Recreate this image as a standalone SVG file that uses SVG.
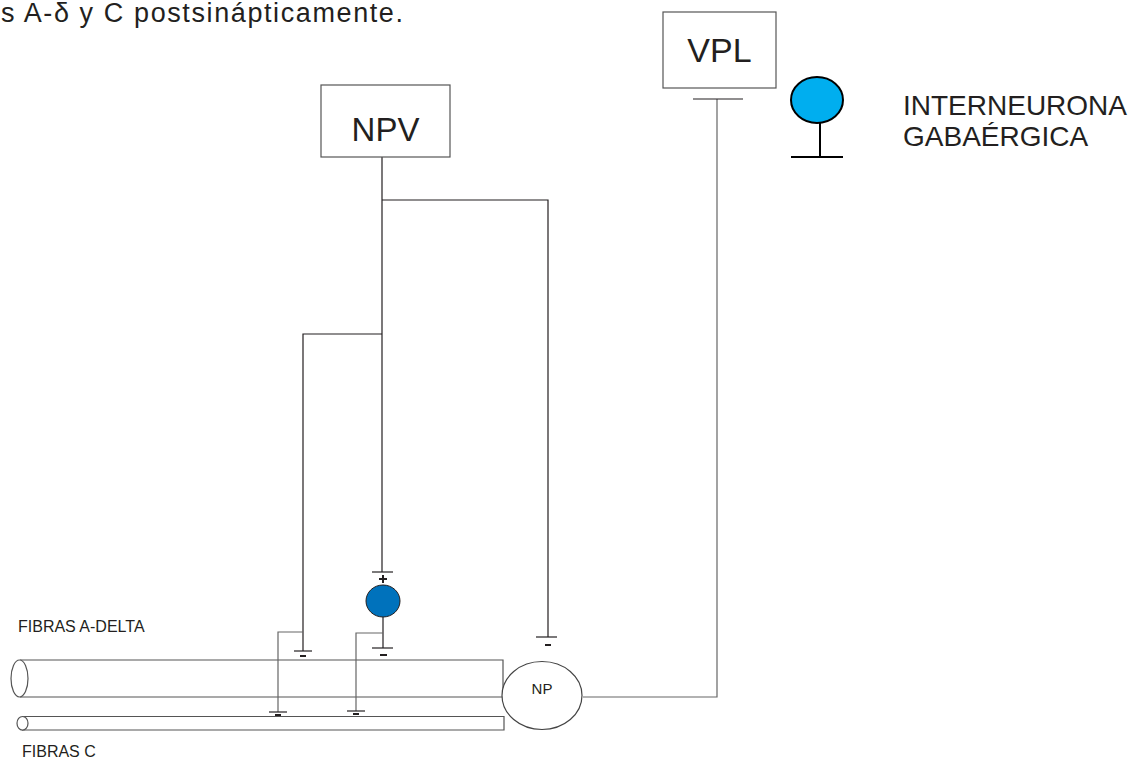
<svg xmlns="http://www.w3.org/2000/svg" width="1132" height="760" viewBox="0 0 1132 760">
<style>
text{font-family:"Liberation Sans",Arial,sans-serif;fill:#231f20}
.box{fill:#fff;stroke:#555;stroke-width:1.2}
.w{fill:none;stroke:#231f20;stroke-width:1.2}
.g{fill:none;stroke:#666;stroke-width:1.2}
.sgn{fill:none;stroke:#231f20;stroke-width:2}
.fib{fill:#fff;stroke:#555;stroke-width:1.2}
</style>
<rect width="1132" height="760" fill="#fff"/>
<text x="1" y="22" font-size="27" textLength="402" lengthAdjust="spacing">s A-δ y C postsinápticamente.</text>

<g id="fibras-adelta">
  <path class="fib" d="M20,660 H503 V697 H20"/>
  <ellipse cx="19.5" cy="678.5" rx="8.5" ry="18.5" fill="#fff" stroke="#555" stroke-width="1.2"/>
  <text x="18" y="632" font-size="16">FIBRAS A-DELTA</text>
</g>

<g id="fibras-c">
  <path class="fib" d="M22,716.5 H504 V730 H22"/>
  <ellipse cx="22.5" cy="723.3" rx="5.5" ry="6.8" fill="#fff" stroke="#555" stroke-width="1.2"/>
  <text x="22" y="757" font-size="16">FIBRAS C</text>
</g>

<g id="connectors">
  <path class="w" d="M382,157 V572"/>
  <path class="w" d="M382,200 H548 V637"/>
  <path class="w" d="M382,334 H303 V651"/>
  <path class="g" d="M303,632 H278 V712"/>
  <path class="w" d="M383,617 V648"/>
  <path class="g" d="M383,633 H356 V711"/>
  <path class="g" d="M583,697 H717 V99"/>
  <path class="w" d="M693,99 H743"/>
  <path class="w" d="M372,572 H393"/>
  <path class="w" d="M372,648 H393"/>
  <path class="w" d="M294,651 H312"/>
  <path class="w" d="M536,637 H557"/>
  <path class="w" d="M269,712 H287"/>
  <path class="w" d="M347,711 H365"/>
  <path class="sgn" d="M379,579 H387 M383,575 V583"/>
  <path class="sgn" d="M380,655 H387"/>
  <path class="sgn" d="M300,656 H306"/>
  <path class="sgn" d="M545,645 H551"/>
  <path class="sgn" d="M275,715 H281"/>
  <path class="sgn" d="M353,714 H359"/>
</g>

<g id="npv">
  <rect class="box" x="321" y="85" width="129" height="72"/>
  <text x="385.5" y="141" font-size="33" text-anchor="middle">NPV</text>
</g>

<g id="vpl">
  <rect class="box" x="663" y="12" width="113" height="76"/>
  <text x="719.5" y="62" font-size="34" text-anchor="middle">VPL</text>
</g>

<g id="interneurona">
  <ellipse cx="383" cy="601" rx="17" ry="16" fill="#0072bc" stroke="#231f20" stroke-width="1"/>
</g>

<g id="legend">
  <ellipse cx="817" cy="100" rx="26" ry="23" fill="#00aeef" stroke="#000" stroke-width="2"/>
  <path d="M820,123 V157 M791,157 H843" fill="none" stroke="#000" stroke-width="2"/>
  <text x="903" y="115" font-size="28">INTERNEURONA</text>
  <text x="903" y="146" font-size="28">GABAÉRGICA</text>
</g>

<g id="np">
  <ellipse cx="542" cy="695.5" rx="40" ry="34" fill="#fff" stroke="#444" stroke-width="1.2"/>
  <text x="542" y="694" font-size="15" text-anchor="middle">NP</text>
</g>
</svg>
